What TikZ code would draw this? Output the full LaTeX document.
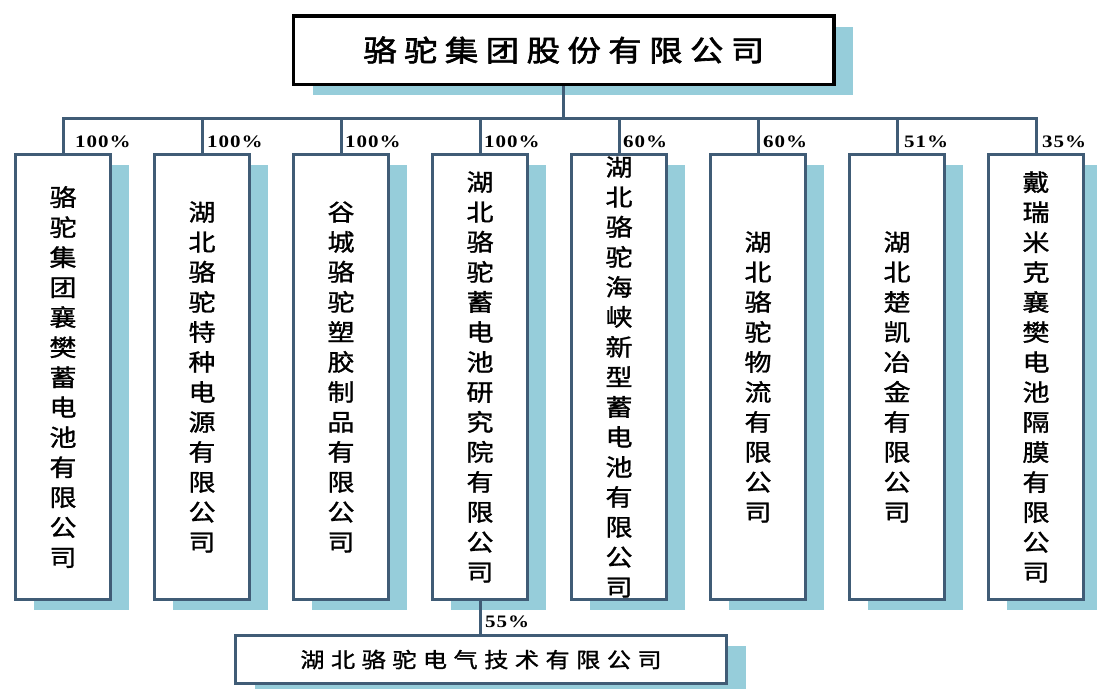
\documentclass[tikz,border=0pt]{standalone}
\usepackage{fontspec}
\usepackage{graphicx}
\usetikzlibrary{shadows}
\newfontfamily\cjk[FakeStretch=1.15,FakeBold=1.2]{Noto Sans CJK SC}
\newfontfamily\cjkb[FakeStretch=1.15,FakeBold=2.2]{Noto Sans CJK SC}
\newfontfamily\pctfont[FakeStretch=1.2]{Liberation Serif}
\definecolor{bord}{RGB}{64,92,118}
\definecolor{shad}{RGB}{150,205,218}
\makeatletter
\newcommand\spacedtext[2]{\def\st@gap{#1}\st@a#2\st@end}
\def\st@a#1#2\st@end{#1\ifx\relax#2\relax\expandafter\@gobble\else\expandafter\@firstofone\fi{\hspace{\st@gap}\st@a#2\st@end}}
\newcommand\vtext[1]{\vt@a#1\vt@end}
\def\vt@a#1#2\vt@end{#1\ifx\relax#2\relax\expandafter\@gobble\else\expandafter\@firstofone\fi{\\\vt@a#2\vt@end}}
\makeatother
\begin{document}
\begin{tikzpicture}[x=1pt,y=-1pt,
  topbox/.style={draw=black, line width=3.5pt, fill=white, minimum width=540.5pt, minimum height=68.5pt,
    general shadow={fill=shad, shadow xshift=19pt, shadow yshift=-11pt},
    font=\cjkb\fontsize{29}{32}\selectfont, inner sep=0pt},
  childbox/.style={draw=bord, line width=3pt, fill=white, minimum width=95pt, minimum height=445pt,
    general shadow={fill=shad, shadow xshift=18.5pt, shadow yshift=-10pt},
    align=center, font=\cjk\fontsize{23.5}{30}\selectfont, inner sep=0pt},
  botbox/.style={draw=bord, line width=3pt, fill=white, minimum width=491pt, minimum height=48pt,
    general shadow={fill=shad, shadow xshift=19pt, shadow yshift=-10pt},
    font=\cjk\fontsize{21}{24}\selectfont, inner sep=0pt},
  pct/.style={font=\pctfont\bfseries\fontsize{17.5}{17.5}\selectfont, anchor=base west, inner sep=0pt},
  conn/.style={draw=bord, line width=3pt}]
\useasboundingbox (0,0) rectangle (1097,688);
\fill[white] (0,0) rectangle (1097,688);

\node[topbox] (top) at (563.75,50) {\spacedtext{7.5pt}{骆驼集团股份有限公司}\hspace{11pt}};

\node[childbox] (c1) at (63,377) {\vtext{骆驼集团襄樊蓄电池有限公司}};
\node[childbox] (c2) at (202,377) {\vtext{湖北骆驼特种电源有限公司}};
\node[childbox] (c3) at (341,377) {\vtext{谷城骆驼塑胶制品有限公司}};
\node[childbox] (c4) at (480,377) {\vtext{湖北骆驼蓄电池研究院有限公司}};
\node[childbox] (c5) at (619,377) {\vtext{湖北骆驼海峡新型蓄电池有限公司}};
\node[childbox] (c6) at (758,377) {\vtext{湖北骆驼物流有限公司}};
\node[childbox] (c7) at (897,377) {\vtext{湖北楚凯冶金有限公司}};
\node[childbox] (c8) at (1036,377) {\vtext{戴瑞米克襄樊电池隔膜有限公司}};

\node[botbox] (bot) at (481,659.5) {\spacedtext{6.5pt}{湖北骆驼电气技术有限公司}\hspace{6pt}};

\coordinate (bus) at (563.75,118);
\draw[conn] (top.south) -- (bus);
\draw[conn, line cap=rect] (c1.north |- bus) -- (c8.north |- bus);
\foreach \i in {1,...,8} {\draw[conn] (c\i.north |- bus) -- (c\i.north);}
\draw[conn] (c4.south) -- (c4.south |- bot.north);

\node[pct] (p1) at (75,147) {\spacedtext{1pt}{100\%}};
\node[pct] (p2) at (207,147) {\spacedtext{1pt}{100\%}};
\node[pct] (p3) at (345,147) {\spacedtext{1pt}{100\%}};
\node[pct] (p4) at (484,147) {\spacedtext{1pt}{100\%}};
\node[pct] (p5) at (623,147) {\spacedtext{1pt}{60\%}};
\node[pct] (p6) at (763,147) {\spacedtext{1pt}{60\%}};
\node[pct] (p7) at (904,147) {\spacedtext{1pt}{51\%}};
\node[pct] (p8) at (1042,147) {\spacedtext{1pt}{35\%}};
\node[pct] (p9) at (485,627) {\spacedtext{1pt}{55\%}};
\end{tikzpicture}
\end{document}
